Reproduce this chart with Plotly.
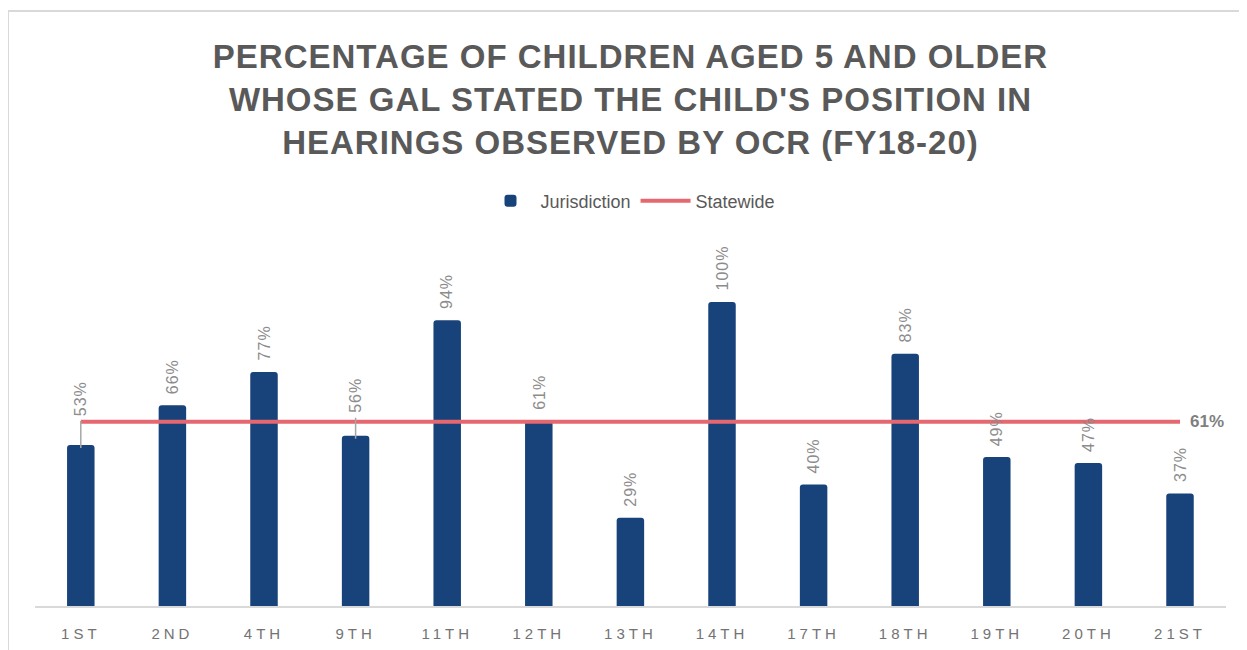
import plotly.graph_objects as go

categories = ["1ST", "2ND", "4TH", "9TH", "11TH", "12TH", "13TH", "14TH", "17TH", "18TH", "19TH", "20TH", "21ST"]
jurisdiction = [0.53, 0.66, 0.77, 0.56, 0.94, 0.61, 0.29, 1.00, 0.40, 0.83, 0.49, 0.47, 0.37]
statewide_value = 0.606
statewide = [statewide_value] * len(categories)

BAR_COLOR = "#17427A"
LINE_COLOR = "#E5676F"
TEXT_GRAY = "#595959"
LABEL_GRAY = "#8C8C8C"

W, H = 1247, 650
OFF = 8  # page body margin offset
ML, MR = 35 - OFF, 21 + OFF
MT = 226 - OFF
BASE = 606 - OFF
MB = H - BASE
PW, PH = W - ML - MR, H - MT - MB

def spaced(t, px):
    return f'<span style="letter-spacing:{px}px">{t}</span>'

fig = go.Figure()
fig.add_trace(go.Bar(
    x=categories, y=jurisdiction, name="Jurisdiction",
    marker=dict(color=BAR_COLOR, cornerradius=3, line=dict(width=0)),
))
fig.add_trace(go.Scatter(
    x=categories, y=statewide, name="Statewide", mode="lines",
    line=dict(color=LINE_COLOR, width=4),
))

# data labels (moved labels get a leader line)
label_shift = {"1ST": 27, "9TH": 21}
annotations = []
shapes = []
for c, v in zip(categories, jurisdiction):
    ys = label_shift.get(c, 9)
    annotations.append(dict(
        x=c, y=v, xref="x", yref="y", text=spaced(f"{round(v*100)}%", 1), showarrow=False,
        textangle=-90, yanchor="bottom", xanchor="center", yshift=ys,
        font=dict(family="Liberation Sans, Arial", size=16, color=LABEL_GRAY),
    ))
    if c in label_shift:
        shapes.append(dict(
            type="line", xref="x", yref="y", ysizemode="pixel", yanchor=v,
            x0=c, x1=c, y0=-3, y1=ys - 3,
            line=dict(color="#A6A6A6", width=1.5),
        ))

annotations.append(dict(
    x=categories[-1], y=statewide_value, xref="x", yref="y",
    text=f"<b>{round(statewide_value*100)}%</b>", showarrow=False,
    xanchor="left", xshift=8, yanchor="middle",
    font=dict(family="Liberation Sans, Arial", size=17, color="#7F7F7F"),
))

# outer chart border (light gray)
def px2paper_x(px):
    return (px - OFF - ML) / PW

def px2paper_y(py):
    return (BASE - (py - OFF)) / PH

shapes.append(dict(type="line", xref="paper", yref="paper",
                   x0=px2paper_x(8), x1=px2paper_x(1260), y0=px2paper_y(11), y1=px2paper_y(11),
                   line=dict(color="#D9D9D9", width=2)))
shapes.append(dict(type="line", xref="paper", yref="paper",
                   x0=px2paper_x(8), x1=px2paper_x(8), y0=px2paper_y(11), y1=px2paper_y(700),
                   line=dict(color="#D9D9D9", width=2)))

title_text = "<br>".join([
    "PERCENTAGE OF CHILDREN AGED 5 AND OLDER",
    "WHOSE GAL STATED THE CHILD'S POSITION IN",
    "HEARINGS OBSERVED BY OCR (FY18-20)",
])

fig.update_layout(
    width=W, height=H,
    margin=dict(l=ML, r=MR, t=MT, b=MB),
    paper_bgcolor="white", plot_bgcolor="white",
    bargap=0.7,
    title=dict(
        text=spaced(f"<b>{title_text}</b>", 1),
        x=0.5, xref="paper", xanchor="center",
        y=1 - 60 / H, yref="container", yanchor="top",
        font=dict(family="Liberation Sans, Arial", size=33, color=TEXT_GRAY),
    ),
    legend=dict(
        orientation="h", x=0.5, xanchor="center", y=(BASE - (201 - OFF)) / PH, yanchor="middle",
        font=dict(family="Liberation Sans, Arial", size=18, color=TEXT_GRAY),
        bgcolor="rgba(0,0,0,0)", itemwidth=50,
    ),
    xaxis=dict(
        type="category", showgrid=False, showline=True, linecolor="#D9D9D9", linewidth=2,
        ticks="", tickvals=categories, ticktext=[spaced(c, 4) for c in categories],
        tickfont=dict(family="Liberation Sans, Arial", size=15, color="#737373"),
        ticklabelstandoff=13,
    ),
    yaxis=dict(range=[0, 1.25], visible=False, showgrid=False, zeroline=False),
    annotations=annotations,
    shapes=shapes,
    showlegend=True,
)

fig.write_html("out.html")
